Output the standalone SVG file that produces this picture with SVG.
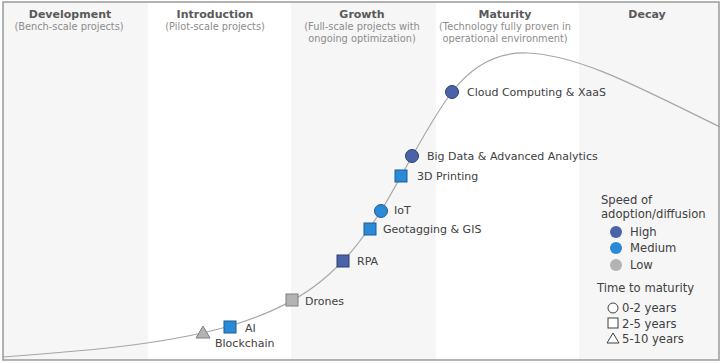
<svg xmlns="http://www.w3.org/2000/svg" width="725" height="363" viewBox="0 0 725 363">
<style>
.band{fill:#f6f6f6}
.hd{font-family:"DejaVu Sans",sans-serif;font-size:11px;font-weight:bold;fill:#595959;text-anchor:middle}
.sub{font-family:"DejaVu Sans",sans-serif;font-size:9.8px;fill:#8c8c8c;text-anchor:middle}
.lbl{font-family:"DejaVu Sans",sans-serif;font-size:11px;fill:#404040}
.leg{font-family:"DejaVu Sans",sans-serif;font-size:11.6px;fill:#404040}
.hi{fill:#4a62a8;stroke:#2e3f72;stroke-width:1}
.md{fill:#2b8ad6;stroke:#1d5d98;stroke-width:1}
.lo{fill:#b3b3b3;stroke:#7f7f7f;stroke-width:1}
.lhi{fill:#4a62a8}
.lmd{fill:#2b8ad6}
.llo{fill:#b3b3b3}
.out{fill:#fff;stroke:#404040;stroke-width:1}
.curve{fill:none;stroke:#a6a6a6;stroke-width:1.2}
</style>
<rect x="0" y="0" width="725" height="363" fill="#ffffff"/>
<g id="bands">
<rect class="band" x="3" y="2" width="145" height="358"/>
<rect class="band" x="291" y="2" width="145" height="358"/>
<rect class="band" x="579" y="2" width="140" height="358"/>
</g>
<g id="headers">
<text class="hd" x="70" y="18">Development</text>
<text class="sub" x="69" y="30">(Bench-scale projects)</text>
<text class="hd" x="215" y="18">Introduction</text>
<text class="sub" x="215" y="30">(Pilot-scale projects)</text>
<text class="hd" x="362" y="18">Growth</text>
<text class="sub" x="362" y="30">(Full-scale projects with</text>
<text class="sub" x="362" y="42">ongoing optimization)</text>
<text class="hd" x="505" y="18">Maturity</text>
<text class="sub" x="505" y="30">(Technology fully proven in</text>
<text class="sub" x="505" y="42">operational environment)</text>
<text class="hd" x="647" y="18">Decay</text>
</g>
<g id="connectors">
<path class="curve" d="M3,357 C100,350 170,343 230,326 C270,314 300,298 320,282 C345,262 362,240 381,211 C400,180 430,120 452,92 C475,62 500,52 527,53 C580,55 640,88 720,127"/>
</g>
<g id="node-blockchain">
<polygon class="lo" points="203,326 210,338 196,338"/>
<text class="lbl" x="215" y="347">Blockchain</text>
</g>
<g id="node-ai">
<rect class="md" x="224" y="321" width="12" height="12"/>
<text class="lbl" x="245" y="332">AI</text>
</g>
<g id="node-drones">
<rect class="lo" x="286" y="294" width="12" height="12"/>
<text class="lbl" x="305" y="305">Drones</text>
</g>
<g id="node-rpa">
<rect class="hi" x="337" y="255" width="12" height="12"/>
<text class="lbl" x="357" y="265">RPA</text>
</g>
<g id="node-geotagging">
<rect class="md" x="364" y="223" width="12" height="12"/>
<text class="lbl" x="383" y="233">Geotagging &amp; GIS</text>
</g>
<g id="node-iot">
<circle class="md" cx="381" cy="211" r="6.5"/>
<text class="lbl" x="394" y="214">IoT</text>
</g>
<g id="node-3dprinting">
<rect class="md" x="395" y="170" width="12" height="12"/>
<text class="lbl" x="417" y="180">3D Printing</text>
</g>
<g id="node-bigdata">
<circle class="hi" cx="412" cy="156" r="6.5"/>
<text class="lbl" x="427" y="160">Big Data &amp; Advanced Analytics</text>
</g>
<g id="node-cloud">
<circle class="hi" cx="452" cy="92" r="6.5"/>
<text class="lbl" x="467" y="96">Cloud Computing &amp; XaaS</text>
</g>
<g id="legend">
<text class="leg" x="601" y="204">Speed of</text>
<text class="leg" x="601" y="218">adoption/diffusion</text>
<circle class="lhi" cx="616" cy="232" r="6"/>
<text class="leg" x="630" y="236">High</text>
<circle class="lmd" cx="616" cy="248" r="6"/>
<text class="leg" x="630" y="252">Medium</text>
<circle class="llo" cx="616" cy="265" r="6"/>
<text class="leg" x="630" y="269">Low</text>
<text class="leg" x="597" y="292">Time to maturity</text>
<circle class="out" cx="613" cy="308" r="5"/>
<text class="leg" x="622" y="312">0-2 years</text>
<rect class="out" x="608" y="318" width="10" height="10"/>
<text class="leg" x="622" y="328">2-5 years</text>
<polygon class="out" points="613,333 619,343 607,343"/>
<text class="leg" x="622" y="343">5-10 years</text>
</g>
<rect x="3" y="2" width="716" height="358" fill="none" stroke="#9a9a9a" stroke-width="1.5"/>
</svg>
